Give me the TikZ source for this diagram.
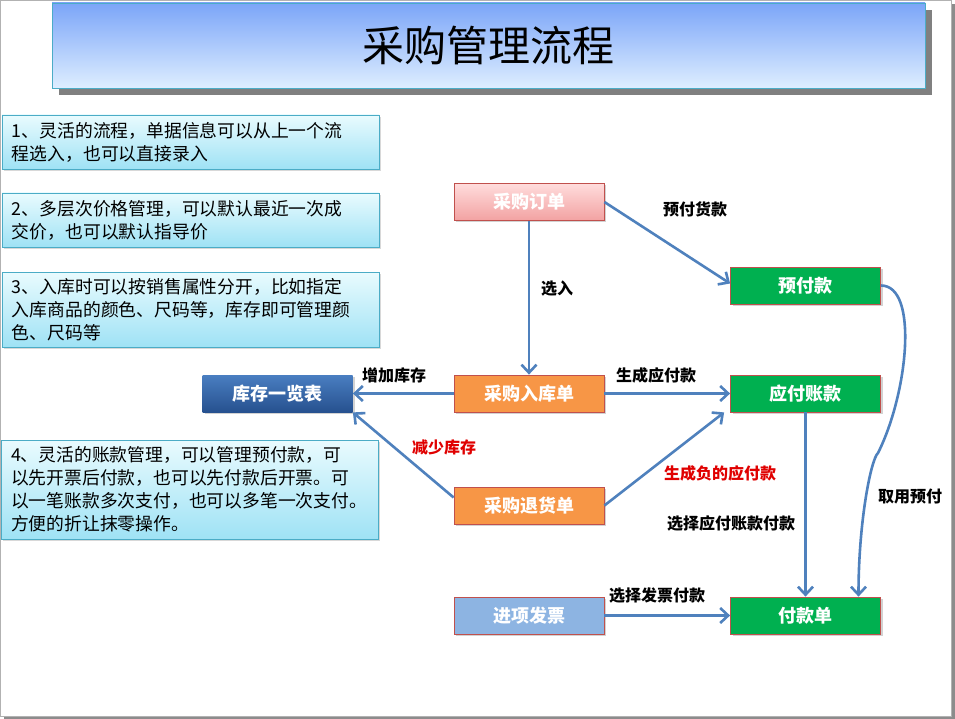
\documentclass[tikz,border=0pt]{standalone}
\usepackage{fontspec}
\setmainfont{Noto Sans CJK SC}
\usetikzlibrary{positioning,arrows.meta,shadows,calc}
\usepackage{xcolor}
\definecolor{arrowblue}{HTML}{4F81BD}
\definecolor{redborder}{HTML}{C0504D}
\definecolor{pinktop}{HTML}{FFDCDC}
\definecolor{pinkbot}{HTML}{F2A2A2}
\definecolor{okgreen}{HTML}{00B050}
\definecolor{orangebox}{HTML}{F79646}
\definecolor{invblue}{HTML}{8DB4E2}
\definecolor{kctop}{HTML}{4A7EC1}
\definecolor{kcbot}{HTML}{26518F}
\definecolor{titletop}{HTML}{7BA5F8}
\definecolor{titlebot}{HTML}{DEEEFF}
\definecolor{notetop}{HTML}{E9FBFE}
\definecolor{notebot}{HTML}{9FE2F5}
\definecolor{noteborder}{HTML}{4BACC6}
\definecolor{alertred}{HTML}{E00000}
\tikzset{
  flowbox/.style={draw=redborder, line width=0.8pt, minimum width=150pt, minimum height=37pt,
    text=white, font=\bfseries\fontsize{18}{20}\selectfont,
    drop shadow={shadow xshift=2pt, shadow yshift=-2pt, opacity=0.35}},
  note/.style={draw=noteborder, line width=0.8pt, top color=notetop, bottom color=notebot,
    text width=357pt, inner xsep=10pt, align=left, font=\fontsize{17.8}{23}\selectfont,
    drop shadow={shadow xshift=2pt, shadow yshift=-2pt, opacity=0.3}},
  lbl/.style={font=\bfseries\fontsize{16}{18}\selectfont},
  flow/.style={->, draw=arrowblue, line width=2.6pt}
}

\begin{document}
\begin{tikzpicture}[x=1pt,y=-1pt]
              \useasboundingbox (0,0) rectangle (955,719);
              \fill[black!45] (4,4) rectangle (955,719);
              \draw[black!30, fill=white] (0.5,0.5) rectangle (951,716);

              \node (title) at (488.5,45.5) [draw=noteborder, top color=titletop, bottom color=titlebot,
                minimum width=873pt, minimum height=85pt, font=\fontsize{42}{46}\selectfont,
                drop shadow={shadow xshift=7pt, shadow yshift=-7pt, fill=black!50, opacity=1}]{采购管理流程};

              \node (n1) at (190.5,142) [note, minimum height=54pt]{1、灵活的流程，单据信息可以从上一个流\\程选入，也可以直接录入};
              \node (n2) at (190.5,220) [note, minimum height=54pt]{2、多层次价格管理，可以默认最近一次成\\交价，也可以默认指导价};
              \node (n3) at (190.5,309.5) [note, minimum height=75pt]{3、入库时可以按销售属性分开，比如指定\\入库商品的颜色、尺码等，库存即可管理颜\\色、尺码等};
              \node (n4) at (189.5,489.5) [note, minimum height=99pt]{4、灵活的账款管理，可以管理预付款，可\\以先开票后付款，也可以先付款后开票。可\\以一笔账款多次支付，也可以多笔一次支付。\\方便的折让抹零操作。};

              \begin{scope}[>={Straight Barb[length=8pt,width=15pt]}]
                \node (dd) at (529,202) [flowbox, top color=pinktop, bottom color=pinkbot]{采购订单};
                \node (yfk) at (805.5,285.5) [flowbox, fill=okgreen]{预付款};
                \node (rk) at (529,393.5) [flowbox, fill=orangebox]{采购入库单};
                \node (yfzk) at (805.5,393.5) [flowbox, fill=okgreen]{应付账款};
                \node (th) at (529,505.5) [flowbox, fill=orangebox]{采购退货单};
                \node (fp) at (529,615.5) [flowbox, fill=invblue]{进项发票};
                \node (fkd) at (805.5,615.5) [flowbox, fill=okgreen]{付款单};
                \node (kc) at (277.5,393.5) [flowbox, draw=none, top color=kctop, bottom color=kcbot]{库存一览表};
                \coordinate (hook) at (878,453);

                \draw[flow] (dd) -- (rk);
                \draw[flow] (dd.east) -- ([yshift=2pt]yfk.west);
                \draw[flow] (rk) -- (kc);
                \draw[flow] (rk) -- (yfzk);
                \draw[flow] ([yshift=8pt]th.west) -- (kc.south east);
                \draw[flow] (th.east) -- ([xshift=-6pt]yfzk.south west);
                \draw[flow] (yfzk) -- (fkd);
                \draw[flow] (fp) -- (fkd);
                \draw[flow] (yfk.east) .. controls +(38,0) and +(30,-60) .. (hook)
                  .. controls +(-7,6) and +(0,-75) .. ([xshift=53pt]fkd.north);

                \node (l1) at (557,289) [lbl]{选入};
                \node (l2) at (695,209) [lbl]{预付货款};
                \node (l3) at (394,375) [lbl]{增加库存};
                \node (l4) at (656,375) [lbl]{生成应付款};
                \node (l5) at (444,447) [lbl, text=alertred]{减少库存};
                \node (l6) at (720,473) [lbl, text=alertred]{生成负的应付款};
                \node (l7) at (731,523) [lbl]{选择应付账款付款};
                \node (l8) at (910,497) [lbl]{取用预付};
                \node (l9) at (657,595) [lbl]{选择发票付款};
              \end{scope}
\end{tikzpicture}
\end{document}
